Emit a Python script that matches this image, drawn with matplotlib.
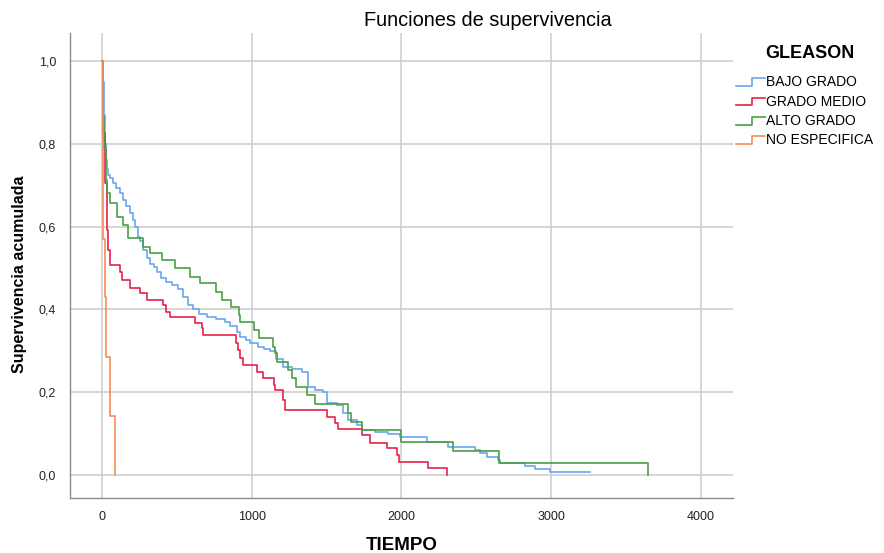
import matplotlib
matplotlib.use("Agg")
import matplotlib.pyplot as plt
from matplotlib.legend_handler import HandlerBase
from matplotlib.lines import Line2D
import numpy as np

plt.rcParams['font.family'] = ['Liberation Sans', 'DejaVu Sans']

# Kaplan-Meier estimates per Gleason group (time, cumulative survival)
bajo_t = [0, 5, 12, 20, 28, 35, 42, 55, 75, 95, 120, 140, 160, 187, 205, 220,
          240, 254, 274, 300, 321, 345, 367, 395, 430, 470, 508, 540, 575, 608,
          650, 701, 760, 820, 855, 900, 922, 960, 988, 1042, 1080, 1122, 1160,
          1209, 1270, 1336, 1376, 1420, 1476, 1502, 1569, 1610, 1643, 1700,
          1736, 1820, 1910, 1990, 2170, 2311, 2491, 2524, 2571, 2644, 2660,
          2825, 2892, 2992, 3260]
bajo_s = [1.0, 0.95, 0.87, 0.80, 0.76, 0.74, 0.725, 0.717, 0.705, 0.693, 0.68,
          0.665, 0.65, 0.633, 0.615, 0.60, 0.575, 0.565, 0.543, 0.525, 0.51,
          0.502, 0.49, 0.475, 0.465, 0.458, 0.45, 0.43, 0.41, 0.40, 0.39,
          0.382, 0.376, 0.37, 0.36, 0.345, 0.333, 0.325, 0.318, 0.31, 0.305,
          0.30, 0.28, 0.261, 0.255, 0.248, 0.213, 0.205, 0.20, 0.174, 0.169,
          0.15, 0.133, 0.12, 0.109, 0.104, 0.10, 0.092, 0.08, 0.068, 0.06,
          0.053, 0.043, 0.036, 0.029, 0.022, 0.0145, 0.007, 0.007]

medio_t = [0, 5, 20, 30, 35, 40, 53, 120, 134, 187, 254, 300, 407, 427, 455,
           621, 667, 674, 895, 905, 922, 942, 1035, 1075, 1148, 1155, 1209,
           1222, 1502, 1556, 1576, 1736, 1790, 1903, 1970, 1983, 2177, 2304]
medio_s = [1.0, 0.826, 0.705, 0.623, 0.592, 0.543, 0.507, 0.49, 0.471, 0.452,
           0.44, 0.423, 0.41, 0.394, 0.382, 0.367, 0.355, 0.338, 0.319, 0.302,
           0.283, 0.266, 0.249, 0.234, 0.217, 0.205, 0.181, 0.157, 0.14, 0.126,
           0.111, 0.097, 0.077, 0.065, 0.048, 0.031, 0.017, 0.0]

alto_t = [0, 5, 15, 25, 33, 53, 100, 140, 174, 274, 321, 400, 487, 588, 655,
          761, 801, 861, 915, 922, 1015, 1048, 1142, 1155, 1170, 1242, 1269,
          1295, 1369, 1422, 1643, 1663, 1736, 2000, 2344, 2650, 3646]
alto_s = [1.0, 0.865, 0.79, 0.713, 0.68, 0.657, 0.623, 0.604, 0.572, 0.551,
          0.536, 0.519, 0.50, 0.478, 0.464, 0.442, 0.423, 0.406, 0.386, 0.37,
          0.35, 0.331, 0.31, 0.295, 0.273, 0.254, 0.234, 0.213, 0.193, 0.171,
          0.15, 0.128, 0.109, 0.08, 0.058, 0.029, 0.0]

noesp_t = [0, 5, 20, 24, 53, 87]
noesp_s = [1.0, 0.571, 0.429, 0.286, 0.143, 0.0]

groups = ['BAJO GRADO', 'GRADO MEDIO', 'ALTO GRADO', 'NO ESPECIFICA']
colors = ['#6aa6ee', '#e5214b', '#4a9e45', '#f88e58']
x_ticks = [0, 1000, 2000, 3000, 4000]
y_ticks = [0.0, 0.2, 0.4, 0.6, 0.8, 1.0]


class StepHandler(HandlerBase):
    # small step glyph for the legend keys
    def create_artists(self, legend, orig_handle, xdescent, ydescent,
                       width, height, fontsize, trans):
        xs = np.array([0, 0.55, 0.55, 1.0]) * width - xdescent
        ys = np.array([0.05, 0.05, 0.85, 0.85]) * height - ydescent
        ln = Line2D(xs, ys, color=orig_handle.get_color(), lw=1.2)
        ln.set_transform(trans)
        return [ln]


fig = plt.figure(figsize=(8.84, 5.53), dpi=100)
ax = fig.add_axes([70 / 884, 1 - 498 / 553, 663 / 884, 465 / 553])

series = [(bajo_t, bajo_s), (medio_t, medio_s), (alto_t, alto_s),
          (noesp_t, noesp_s)]
handles = []
for (t, s), name, c in zip(series, groups, colors):
    h, = ax.step(t, s, where='post', color=c, lw=1.2, label=name, zorder=3)
    handles.append(h)

ax.set_xlim(-214, 4214)
ax.set_ylim(-0.0556, 1.0676)
ax.set_xticks(x_ticks)
ax.set_yticks(y_ticks)
ax.set_xticklabels([str(v) for v in x_ticks])
ax.set_yticklabels([f'{v:.1f}'.replace('.', ',') for v in y_ticks])
ax.tick_params(axis='both', length=0, labelsize=9, colors='#222222')
ax.tick_params(axis='x', pad=9)
ax.tick_params(axis='y', pad=10)
ax.grid(True, color='#cfcfcf', lw=1.2)
ax.set_axisbelow(True)
for side in ['top', 'right']:
    ax.spines[side].set_visible(False)
for side in ['left', 'bottom']:
    ax.spines[side].set_color('#8a8a8a')
    ax.spines[side].set_linewidth(1.0)

fig.text(488 / 884, 1 - 20 / 553, 'Funciones de supervivencia',
         ha='center', va='center', fontsize=14.4)
fig.text(402 / 884, 1 - 545 / 553, 'TIEMPO', ha='center', va='center',
         fontsize=13.5, fontweight='bold')
fig.text(20 / 884, 1 - 274 / 553, 'Supervivencia acumulada', ha='center',
         va='center', rotation=90, fontsize=11.5, fontweight='bold')

# legend title placed on its own so the gap above the entries is wider
fig.text(810 / 884, 1 - 53 / 553, 'GLEASON', ha='center', va='center',
         fontsize=13, fontweight='bold')
leg = fig.legend(handles=handles, labels=groups, loc='upper left',
                 bbox_to_anchor=(723 / 884, 1 - 63 / 553), frameon=False,
                 fontsize=10, handlelength=2.15, borderaxespad=0.5,
                 handletextpad=0.05, labelspacing=0.38,
                 handler_map={Line2D: StepHandler()})

fig.savefig('out.png', dpi=100)
